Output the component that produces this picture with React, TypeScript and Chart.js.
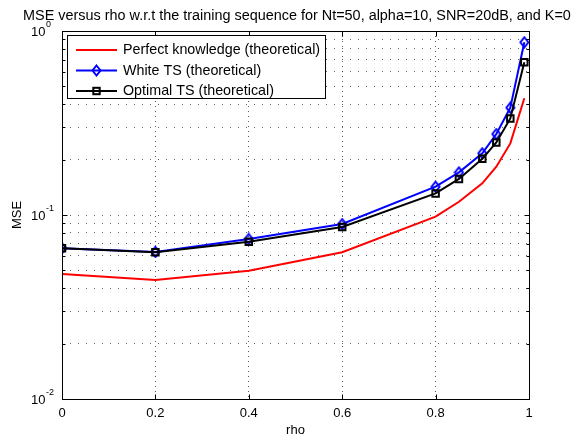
import React, { useEffect, useRef } from 'react';
import { Chart, registerables } from 'chart.js';

Chart.register(...registerables);

const titleText = 'MSE versus rho w.r.t the training sequence for Nt=50, alpha=10, SNR=20dB, and K=0';
const xAxisLabel = 'rho';
const yAxisLabel = 'MSE';

const rho = [0, 0.2, 0.4, 0.6, 0.8, 0.85, 0.9, 0.93, 0.96, 0.99];
const msePerfect = [0.0478, 0.0443, 0.0498, 0.0627, 0.098, 0.118, 0.1486, 0.183, 0.245, 0.431];
const mseWhite = [0.066, 0.063, 0.0741, 0.0893, 0.1425, 0.1706, 0.2165, 0.2754, 0.383, 0.868];
const mseOptimal = [0.0659, 0.0627, 0.0716, 0.086, 0.131, 0.157, 0.202, 0.248, 0.335, 0.676];

const xTickValues = [0, 0.2, 0.4, 0.6, 0.8, 1];
const xTickLabels = ['0', '0.2', '0.4', '0.6', '0.8', '1'];
const yDecadeExponents = [-2, -1, 0];
const yExponentLabels = ['-2', '-1', '0'];

const seriesNames = ['Perfect knowledge (theoretical)', 'White TS (theoretical)', 'Optimal TS (theoretical)'];
const seriesColors = ['#ff0000', '#0000ff', '#000000'];
const seriesMarkers = ['none', 'diamond', 'square'];

const FONT = '"Liberation Sans", Arial, Helvetica, sans-serif';

function makeDiamond(color: string): HTMLCanvasElement {
  const c = document.createElement('canvas');
  c.width = 11;
  c.height = 13;
  const g = c.getContext('2d')!;
  g.strokeStyle = color;
  g.lineWidth = 2;
  g.beginPath();
  g.moveTo(5.5, 1.5);
  g.lineTo(9.5, 6.5);
  g.lineTo(5.5, 11.5);
  g.lineTo(1.5, 6.5);
  g.closePath();
  g.stroke();
  return c;
}

export default function App() {
  const canvasRef = useRef<HTMLCanvasElement | null>(null);

  useEffect(() => {
    const canvas = canvasRef.current;
    if (!canvas) return;
    const diamond = makeDiamond(seriesColors[1]);

    const yGridValues: number[] = [];
    for (let i = 0; i < yDecadeExponents.length - 1; i++) {
      for (let m = 1; m <= 9; m++) yGridValues.push(m * Math.pow(10, yDecadeExponents[i]));
    }
    yGridValues.push(Math.pow(10, yDecadeExponents[yDecadeExponents.length - 1]));

    const mk = (vals: number[]) => rho.map((x, i) => ({ x, y: vals[i] }));

    const drawMarker = (ctx: CanvasRenderingContext2D, kind: string, x: number, y: number, color: string) => {
      if (kind === 'diamond') {
        ctx.drawImage(diamond, x - diamond.width / 2, y - diamond.height / 2);
      } else if (kind === 'square') {
        ctx.strokeStyle = color;
        ctx.lineWidth = 2;
        ctx.strokeRect(x - 3.2, y - 3.2, 6.4, 6.4);
      }
    };

    const decor = {
      id: 'decor',
      afterDraw(chart: any) {
        const { ctx, chartArea: a, scales } = chart;
        const xs = scales.x;
        const ys = scales.y;
        ctx.save();
        ctx.strokeStyle = '#000';
        ctx.lineWidth = 1;
        ctx.setLineDash([]);
        const L = Math.round(a.left) + 0.5;
        const R = Math.round(a.right) + 0.5;
        const T = Math.round(a.top) + 0.5;
        const B = Math.round(a.bottom) + 0.5;
        ctx.strokeRect(L, T, R - L, B - T);
        ctx.beginPath();
        xTickValues.forEach((v) => {
          const px = Math.round(xs.getPixelForValue(v)) + 0.5;
          ctx.moveTo(px, B);
          ctx.lineTo(px, B - 5);
          ctx.moveTo(px, T);
          ctx.lineTo(px, T + 5);
        });
        yGridValues.forEach((v) => {
          const py = Math.round(ys.getPixelForValue(v)) + 0.5;
          const major = Math.abs(Math.log10(v) - Math.round(Math.log10(v))) < 1e-9;
          const len = major ? 5 : 3;
          ctx.moveTo(L, py);
          ctx.lineTo(L + len, py);
          ctx.moveTo(R, py);
          ctx.lineTo(R - len, py);
        });
        ctx.stroke();

        ctx.fillStyle = '#000';
        ctx.font = `13px ${FONT}`;
        ctx.textAlign = 'center';
        ctx.textBaseline = 'middle';
        xTickValues.forEach((v, i) => {
          ctx.fillText(xTickLabels[i], xs.getPixelForValue(v), a.bottom + 14);
        });
        ctx.fillText(xAxisLabel, (a.left + a.right) / 2, a.bottom + 31);

        yDecadeExponents.forEach((e, i) => {
          const py = ys.getPixelForValue(Math.pow(10, e));
          ctx.font = `13px ${FONT}`;
          ctx.textAlign = 'left';
          ctx.textBaseline = 'middle';
          ctx.fillText('10', 31, py + 1);
          const w = ctx.measureText('10').width;
          ctx.font = `9px ${FONT}`;
          ctx.fillText(yExponentLabels[i], 31 + w + 0.5, py - 6);
        });

        ctx.save();
        ctx.translate(17, (a.top + a.bottom) / 2);
        ctx.rotate(-Math.PI / 2);
        ctx.font = `13px ${FONT}`;
        ctx.textAlign = 'center';
        ctx.textBaseline = 'middle';
        ctx.fillText(yAxisLabel, 0, 0);
        ctx.restore();

        // title: fit between x=23 and x=571
        let ts = 13;
        ctx.font = `${ts}px ${FONT}`;
        const w13 = ctx.measureText(titleText).width;
        ts = Math.min(15, 13 * 548 / w13);
        ctx.font = `${ts}px ${FONT}`;
        ctx.textAlign = 'center';
        ctx.textBaseline = 'alphabetic';
        ctx.fillText(titleText, 297, 20);

        ctx.font = `14.3px ${FONT}`;
        const textX = 123;
        let maxW = 0;
        seriesNames.forEach((n) => { maxW = Math.max(maxW, ctx.measureText(n).width); });
        const boxL = 67.5;
        const boxT = 35.5;
        const boxR = Math.round(textX + maxW + 5) + 0.5;
        const boxB = 98.5;
        ctx.fillStyle = '#fff';
        ctx.fillRect(boxL, boxT, boxR - boxL, boxB - boxT);
        ctx.strokeStyle = '#000';
        ctx.lineWidth = 1;
        ctx.strokeRect(boxL, boxT, boxR - boxL, boxB - boxT);
        const rows = [50, 70.5, 91];
        seriesNames.forEach((n, i) => {
          const y = rows[i];
          ctx.strokeStyle = seriesColors[i];
          ctx.lineWidth = 2;
          ctx.beginPath();
          ctx.moveTo(76, y);
          ctx.lineTo(117, y);
          ctx.stroke();
          drawMarker(ctx, seriesMarkers[i], 96.5, y, seriesColors[i]);
          ctx.fillStyle = '#000';
          ctx.textAlign = 'left';
          ctx.textBaseline = 'middle';
          ctx.fillText(n, textX, y + 0.5);
        });
        ctx.restore();
      },
    };

    const gridColor = 'rgba(40,40,40,0.75)';

    const chart = new Chart(canvas, {
      type: 'line',
      data: {
        datasets: [
          {
            label: seriesNames[2],
            data: mk(mseOptimal),
            borderColor: seriesColors[2],
            backgroundColor: 'rgba(0,0,0,0)',
            borderWidth: 2,
            pointStyle: 'rect',
            pointRadius: 4.6,
            pointBorderWidth: 2,
            pointBorderColor: seriesColors[2],
            pointBackgroundColor: 'rgba(0,0,0,0)',
            tension: 0,
          },
          {
            label: seriesNames[1],
            data: mk(mseWhite),
            borderColor: seriesColors[1],
            backgroundColor: 'rgba(0,0,0,0)',
            borderWidth: 2,
            pointStyle: diamond as any,
            pointRadius: 5,
            tension: 0,
          },
          {
            label: seriesNames[0],
            data: mk(msePerfect),
            borderColor: seriesColors[0],
            backgroundColor: 'rgba(0,0,0,0)',
            borderWidth: 2,
            pointRadius: 0,
            tension: 0,
          },
        ],
      },
      options: {
        animation: false,
        responsive: false,
        devicePixelRatio: 1,
        layout: { padding: { left: 62, right: 44, top: 31, bottom: 38 } },
        plugins: {
          legend: { display: false },
          title: { display: false },
          tooltip: { enabled: false },
        },
        events: [],
        scales: {
          x: {
            type: 'linear',
            min: 0,
            max: 1,
            afterBuildTicks: (s: any) => {
              s.ticks = xTickValues.map((v) => ({ value: v }));
            },
            afterFit: (s: any) => { s.height = 0; },
            ticks: { display: false },
            grid: {
              display: true,
              drawTicks: false,
              color: (c: any) => (c.tick && (c.tick.value === 0 || c.tick.value === 1) ? 'rgba(0,0,0,0)' : gridColor),
              lineWidth: 1,
            },
            border: { display: false, dash: [1, 4] },
          },
          y: {
            type: 'logarithmic',
            min: Math.pow(10, yDecadeExponents[0]),
            max: Math.pow(10, yDecadeExponents[yDecadeExponents.length - 1]),
            afterBuildTicks: (s: any) => {
              s.ticks = yGridValues.map((v) => ({ value: v }));
            },
            afterFit: (s: any) => { s.width = 0; },
            ticks: { display: false },
            grid: {
              display: true,
              drawTicks: false,
              color: (c: any) => {
                const v = c.tick ? c.tick.value : 0;
                const first = yGridValues[0];
                const last = yGridValues[yGridValues.length - 1];
                return v === first || v === last ? 'rgba(0,0,0,0)' : gridColor;
              },
              lineWidth: 1,
            },
            border: { display: false, dash: [1, 7] },
          },
        },
      },
      plugins: [decor],
    } as any);

    return () => {
      chart.destroy();
    };
  }, []);

  return (
    <div style={{ position: 'absolute', left: 0, top: 0, width: 573, height: 437, background: '#fff' }}>
      <canvas ref={canvasRef} width={573} height={437} style={{ display: 'block', width: 573, height: 437 }} />
    </div>
  );
}
